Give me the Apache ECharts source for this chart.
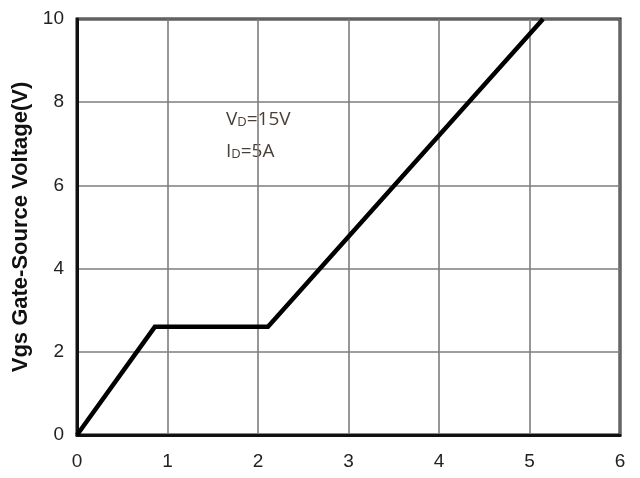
<!DOCTYPE html>
<html>
<head>
<meta charset="utf-8">
<script src="https://cdn.jsdelivr.net/npm/echarts@6/dist/echarts.min.js"></script>
<style>
  html, body { margin: 0; padding: 0; background: #fff; }
  #chart { width: 640px; height: 478px; }
</style>
</head>
<body>
<div id="chart"></div>
<script>
// Gate charge curve: total gate charge Qg (nC) vs gate-source voltage (V)
const gateCharge = [0, 0.86, 2.11, 5.15];
const gateVoltage = [0, 2.6, 2.6, 10];
const xTicks = [0, 1, 2, 3, 4, 5, 6];
const yTicks = [0, 2, 4, 6, 8, 10];
const yTitle = 'Vgs Gate-Source Voltage(V)';
const condVd = '15V';
const condId = '5A';

const chart = echarts.init(document.getElementById('chart'), null, { renderer: 'canvas' });

const labelStyle = { color: '#222', fontFamily: 'Liberation Sans, Arial, sans-serif', fontSize: 19 };
const gridLine = { show: true, lineStyle: { color: '#7d7d7d', width: 1.6, type: 'solid' } };
const condRich = {
  b: { fontFamily: 'Open Sans, sans-serif', fontSize: 19, fill: '#4a3f36' },
  s: { fontFamily: 'Open Sans, sans-serif', fontSize: 13, fill: '#4a3f36', verticalAlign: 'bottom', padding: [5, 0, 0, 0] }
};

chart.setOption({
  animation: false,
  backgroundColor: '#fff',
  grid: {
    left: 77, top: 19, right: 20, bottom: 43,
    show: true, borderColor: '#111', borderWidth: 3, backgroundColor: 'transparent'
  },
  xAxis: {
    type: 'value',
    min: xTicks[0], max: xTicks[xTicks.length - 1], interval: 1,
    axisLine: { show: true, lineStyle: { color: '#111', width: 3 } },
    axisTick: { show: false },
    splitLine: gridLine,
    axisLabel: Object.assign({ margin: 17 }, labelStyle)
  },
  yAxis: {
    type: 'value',
    min: yTicks[0], max: yTicks[yTicks.length - 1], interval: 2,
    name: yTitle,
    nameLocation: 'middle',
    nameGap: 45,
    nameTextStyle: { color: '#111', fontFamily: 'Liberation Sans, Arial, sans-serif', fontSize: 22, fontWeight: 'bold' },
    axisLine: { show: true, lineStyle: { color: '#111', width: 3 } },
    axisTick: { show: false },
    splitLine: gridLine,
    axisLabel: Object.assign({ margin: 13 }, labelStyle)
  },
  series: [{
    type: 'line',
    data: gateCharge.map((q, i) => [q, gateVoltage[i]]),
    showSymbol: false,
    lineStyle: { color: '#000', width: 4.5, join: 'miter' },
    clip: true
  }],
  graphic: [
    { type: 'text', left: 226, top: 110, style: { text: '{b|V}{s|D}{b|=' + condVd + '}', rich: condRich } },
    { type: 'text', left: 226, top: 142, style: { text: '{b|I}{s|D}{b|=' + condId + '}', rich: condRich } }
  ]
});
</script>
</body>
</html>
